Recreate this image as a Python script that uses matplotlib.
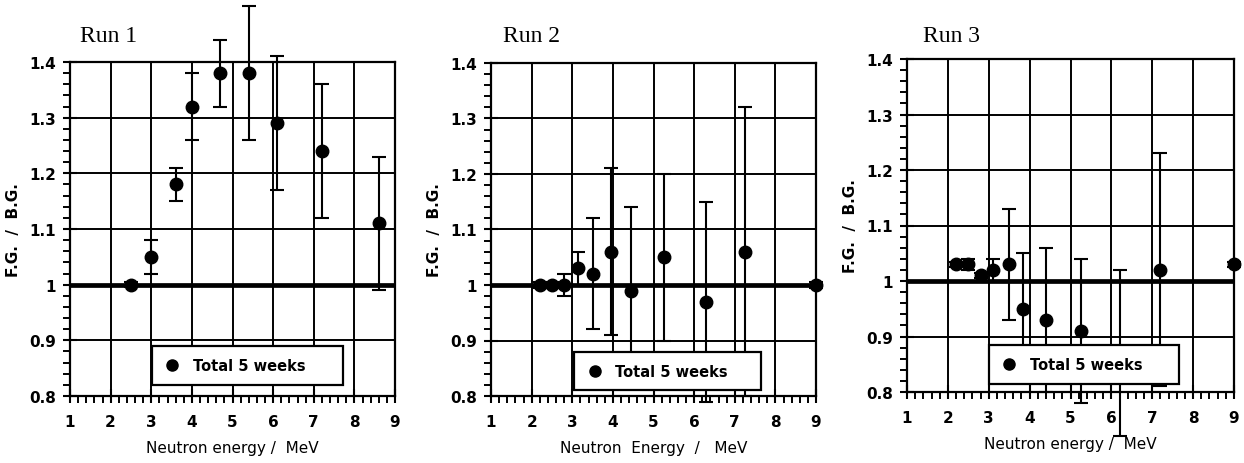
import matplotlib
matplotlib.use("Agg")
import matplotlib.pyplot as plt
from matplotlib.ticker import MultipleLocator

# ---- data ----
run1_x = [2.5, 3.0, 3.6, 4.0, 4.7, 5.4, 6.1, 7.2, 8.6]
run1_y = [1.00, 1.05, 1.18, 1.32, 1.38, 1.38, 1.29, 1.24, 1.11]
run1_lo = [0.995, 1.02, 1.15, 1.26, 1.32, 1.26, 1.17, 1.12, 0.99]
run1_hi = [1.005, 1.08, 1.21, 1.38, 1.44, 1.50, 1.41, 1.36, 1.23]

run2_x = [2.2, 2.5, 2.8, 3.15, 3.5, 3.95, 4.45, 5.25, 6.3, 7.25, 9.0]
run2_y = [1.00, 1.00, 1.00, 1.03, 1.02, 1.06, 0.99, 1.05, 0.97, 1.06, 1.00]
run2_lo = [0.995, 0.995, 0.98, 1.00, 0.92, 0.91, 0.84, 0.90, 0.79, 0.80, 0.995]
run2_hi = [1.005, 1.005, 1.02, 1.06, 1.12, 1.21, 1.14, 1.20, 1.15, 1.32, 1.005]

run3_x = [2.2, 2.5, 2.8, 3.1, 3.5, 3.85, 4.4, 5.25, 6.2, 7.2, 9.0]
run3_y = [1.03, 1.03, 1.01, 1.02, 1.03, 0.95, 0.93, 0.91, 0.87, 1.02, 1.03]
run3_lo = [1.025, 1.02, 1.005, 1.00, 0.93, 0.85, 0.80, 0.78, 0.72, 0.81, 1.025]
run3_hi = [1.035, 1.04, 1.015, 1.04, 1.13, 1.05, 1.06, 1.04, 1.02, 1.23, 1.035]

titles = ["Run 1", "Run 2", "Run 3"]
xlabels = ["Neutron energy /  MeV", "Neutron  Energy  /   MeV", "Neutron energy /  MeV"]
ylabels = ["F.G.  /  B.G.", "F.G.  /  B.G.", "F.G.  /  B.G."]
legend_label = "Total 5 weeks"
xticks = [1, 2, 3, 4, 5, 6, 7, 8, 9]
yticks = [0.8, 0.9, 1.0, 1.1, 1.2, 1.3, 1.4]
ytick_labels = ["0.8", "0.9", "1", "1.1", "1.2", "1.3", "1.4"]

runs = [
    (run1_x, run1_y, run1_lo, run1_hi),
    (run2_x, run2_y, run2_lo, run2_hi),
    (run3_x, run3_y, run3_lo, run3_hi),
]

W, H = 1244, 464
fig = plt.figure(figsize=(W / 100, H / 100), dpi=100)

# axes in pixel coordinates: (left, right, top, bottom)
boxes = [(70, 395, 63, 397), (491, 816, 64, 397), (907, 1234, 60, 393)]
title_x = [80, 503, 923]
legend_boxes = [(3.02, 0.82, 4.7, 0.07), (3.05, 0.81, 4.6, 0.07), (3.0, 0.815, 4.65, 0.07)]

sans = ["DejaVu Sans"]
serif = ["Liberation Serif", "DejaVu Serif"]

for i, ((x, y, lo, hi), (l, r, t, b)) in enumerate(zip(runs, boxes)):
    ax = fig.add_axes([l / W, 1 - b / H, (r - l) / W, (b - t) / H])
    ax.set_xlim(1, 9)
    ax.set_ylim(0.8, 1.4)
    ax.grid(True, color="black", linewidth=1.4)
    ax.set_axisbelow(True)
    ax.axhline(1.0, color="black", linewidth=3.4, zorder=2)
    yerr = [[yy - a for yy, a in zip(y, lo)], [bb - yy for yy, bb in zip(y, hi)]]
    ax.errorbar(x, y, yerr=yerr, fmt="o", color="black", markersize=9,
                ecolor="black", elinewidth=1.5, capsize=5, capthick=1.5,
                clip_on=False, zorder=3)
    # legend box drawn in data coordinates
    lx, ly, lw, lh = legend_boxes[i]
    rect = plt.Rectangle((lx, ly), lw, lh, facecolor="white", edgecolor="black",
                         linewidth=1.6, zorder=5)
    ax.add_patch(rect)
    ax.plot([lx + 0.5], [ly + lh / 2], "o", color="black", markersize=8, zorder=6)
    ax.text(lx + 1.0, ly + lh / 2, legend_label, fontsize=10.5, fontweight="bold",
            family=sans, va="center", ha="left", zorder=6)

    ax.set_xticks(xticks)
    ax.set_yticks(yticks)
    ax.set_yticklabels(ytick_labels)
    ax.xaxis.set_minor_locator(MultipleLocator(0.2))
    ax.yaxis.set_minor_locator(MultipleLocator(0.02))
    ax.tick_params(which="major", direction="inout", length=10, width=1.5,
                   labelsize=11, pad=5)
    ax.tick_params(axis="x", which="major", pad=8)
    ax.tick_params(which="minor", direction="out", length=5, width=1.4)
    for lab in ax.get_xticklabels() + ax.get_yticklabels():
        lab.set_fontweight("bold")
        lab.set_family(sans)
    for sp in ax.spines.values():
        sp.set_linewidth(1.6)
    ax.set_xlabel(xlabels[i], fontsize=11, family=sans, labelpad=8)
    ax.set_ylabel(ylabels[i], fontsize=11, family=sans, fontweight="bold", labelpad=6)
    fig.text(title_x[i] / W, 1 - 37 / H, titles[i], fontsize=17, family=serif,
             va="center", ha="left")

fig.savefig("out.png", dpi=100)
